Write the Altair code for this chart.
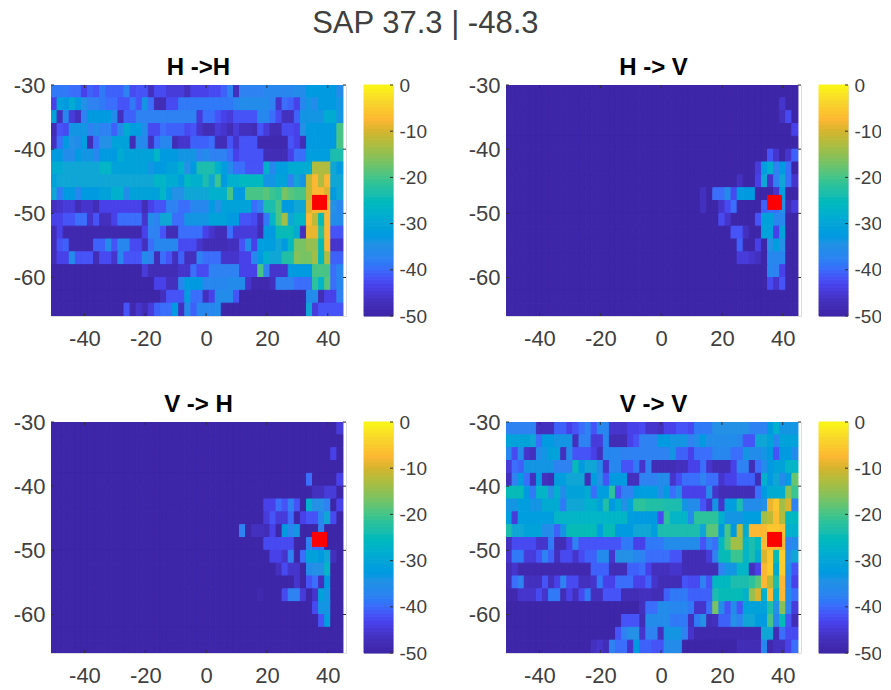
import altair as alt
import pandas as pd

TITLE = "SAP 37.3 | -48.3"
PANEL_TITLES = ["H ->H", "H -> V", "V -> H", "V -> V"]
MARKER_LON = [37.3]
MARKER_LAT = [-48.3]
X_TICKS = [-40, -20, 0, 20, 40]
Y_TICKS = [-30, -40, -50, -60]
CB_TICKS = [0, -10, -20, -30, -40, -50]
CB_LEVELS = [-50 + i * 50 / 64 for i in range(64)]
PARULA_VALUES = [-50, -47, -44, -42, -40, -38, -35, -30, -27, -24, -20, -15, -10, -8, -4, 0]
PARULA_COLORS = ["#3E26A8", "#4430BE", "#4840E8", "#4653F7", "#3A6EFB", "#2F82F2", "#2490E6", "#0FA6D6",
                 "#03B5C6", "#1CBDAE", "#48C586", "#95BF50", "#D9B42F", "#FCB733", "#F8D52C", "#F9FB15"]

# Each row runs top to bottom; (first longitude bin, dB) holds until the next pair.
HH = [
 [(0,-39),(3,-40),(5,-44),(6,-41),(7,-42),(8,-39),(9,-41),(12,-38),(13,-43),(14,-42),(16,-47),(17,-43),(19,-45),(22,-47),(23,-44),(26,-43),(28,-41),(29,-38),(30,-47),(31,-38),(35,-37),(40,-36),(42,-33),(47,-36)],
 [(0,-44),(1,-31),(2,-33),(3,-29),(4,-33),(5,-35),(6,-38),(8,-39),(9,-40),(11,-42),(13,-39),(14,-42),(15,-34),(16,-40),(17,-48),(19,-43),(21,-39),(30,-37),(31,-36),(36,-38),(37,-46),(38,-40),(39,-41),(40,-44),(41,-37),(42,-34),(43,-36),(44,-33),(47,-34)],
 [(0,-31),(1,-47),(2,-37),(3,-45),(4,-47),(5,-38),(6,-33),(10,-36),(11,-47),(12,-41),(14,-38),(24,-45),(25,-40),(27,-42),(28,-44),(29,-45),(30,-42),(34,-37),(36,-40),(37,-43),(38,-47),(40,-41),(41,-34),(45,-29),(47,-34)],
 [(0,-48),(1,-42),(2,-43),(3,-34),(6,-38),(7,-36),(8,-38),(10,-41),(11,-36),(12,-29),(13,-32),(15,-36),(16,-43),(18,-40),(19,-41),(22,-43),(23,-42),(24,-46),(25,-48),(27,-45),(28,-46),(29,-48),(30,-45),(31,-47),(33,-48),(34,-42),(35,-45),(36,-48),(38,-43),(40,-44),(41,-35),(42,-33),(47,-20)],
 [(0,-47),(1,-40),(2,-33),(3,-35),(4,-36),(5,-32),(6,-48),(7,-40),(8,-35),(10,-31),(13,-48),(14,-36),(15,-37),(16,-47),(17,-40),(18,-37),(20,-48),(21,-46),(23,-41),(26,-40),(27,-48),(29,-42),(30,-46),(31,-42),(34,-49),(39,-42),(40,-44),(41,-48),(42,-33),(47,-20)],
 [(0,-33),(2,-36),(4,-33),(5,-34),(7,-37),(8,-33),(11,-29),(12,-31),(17,-27),(18,-33),(21,-34),(24,-38),(25,-36),(26,-38),(29,-40),(30,-44),(31,-42),(35,-48),(39,-44),(40,-40),(42,-32),(46,-24)],
 [(0,-29),(2,-30),(8,-27),(10,-31),(16,-34),(17,-33),(19,-31),(21,-28),(22,-35),(23,-33),(24,-24),(27,-28),(28,-32),(29,-36),(30,-40),(32,-42),(35,-28),(36,-37),(37,-32),(39,-29),(43,-13),(46,-30),(47,-33)],
 [(0,-31),(1,-30),(17,-27),(19,-29),(21,-32),(22,-26),(23,-28),(25,-24),(26,-30),(27,-21),(28,-33),(29,-28),(31,-26),(35,-34),(37,-31),(39,-38),(40,-30),(41,-34),(42,-12),(43,-8),(44,-13),(45,-8),(46,-30)],
 [(0,-30),(1,-39),(2,-33),(4,-37),(5,-33),(8,-31),(10,-28),(12,-36),(13,-31),(18,-27),(19,-32),(20,-35),(22,-30),(26,-28),(29,-20),(30,-33),(32,-20),(35,-19),(36,-21),(37,-22),(38,-17),(39,-19),(40,-20),(42,-12),(43,-8),(45,-10),(46,-33),(47,-30)],
 [(0,-47),(1,-46),(2,-45),(4,-48),(5,-46),(7,-48),(8,-44),(15,-48),(16,-44),(17,-42),(19,-38),(21,-40),(23,-37),(26,-33),(27,-35),(28,-31),(33,-40),(34,-38),(35,-24),(37,-20),(38,-33),(40,-30),(42,-10),(43,-8),(46,-35),(47,-37)],
 [(0,-44),(2,-42),(4,-40),(6,-46),(7,-42),(8,-47),(10,-44),(11,-40),(15,-46),(16,-36),(17,-38),(18,-30),(20,-40),(22,-34),(26,-31),(29,-33),(31,-42),(33,-43),(34,-47),(35,-39),(36,-27),(37,-20),(38,-14),(39,-30),(40,-27),(42,-8),(43,-12),(44,-25),(45,-8),(46,-36)],
 [(0,-48),(1,-44),(2,-49),(15,-44),(16,-38),(18,-42),(19,-48),(21,-40),(25,-44),(26,-46),(27,-48),(29,-40),(30,-45),(34,-48),(35,-33),(37,-25),(40,-29),(41,-47),(42,-9),(44,-22),(45,-8),(46,-42)],
 [(0,-48),(1,-42),(2,-41),(3,-49),(7,-41),(9,-36),(10,-42),(11,-37),(13,-43),(15,-47),(16,-40),(17,-37),(21,-43),(24,-46),(25,-48),(29,-47),(31,-42),(32,-36),(33,-44),(34,-32),(37,-30),(38,-33),(39,-26),(40,-17),(42,-15),(44,-25),(45,-8),(46,-46)],
 [(0,-48),(1,-44),(3,-36),(4,-42),(7,-48),(8,-43),(10,-46),(11,-37),(12,-42),(15,-36),(16,-38),(17,-48),(18,-40),(19,-42),(20,-47),(21,-41),(22,-47),(24,-38),(25,-40),(28,-46),(31,-44),(33,-37),(34,-33),(35,-28),(36,-30),(38,-23),(40,-16),(41,-17),(43,-14),(44,-26),(45,-13),(46,-41)],
 [(0,-50),(15,-45),(16,-48),(21,-46),(23,-40),(24,-43),(26,-38),(31,-44),(34,-20),(35,-38),(36,-46),(39,-33),(43,-20),(46,-40),(47,-37)],
 [(0,-50),(17,-44),(19,-47),(21,-37),(22,-33),(25,-37),(29,-36),(32,-46),(33,-49),(36,-47),(37,-38),(40,-40),(43,-22),(44,-27),(45,-19),(46,-40),(47,-37)],
 [(0,-50),(18,-47),(19,-42),(22,-32),(23,-40),(25,-47),(26,-44),(27,-36),(30,-42),(31,-50),(42,-36),(44,-48),(45,-44),(47,-38)],
 [(0,-50),(12,-42),(13,-49),(14,-46),(15,-48),(16,-45),(17,-41),(18,-40),(20,-33),(21,-47),(22,-36),(23,-41),(24,-37),(27,-36),(28,-50),(42,-30),(43,-45),(44,-42)],
]
VV = [
 [(0,-38),(5,-47),(8,-41),(10,-44),(11,-42),(12,-40),(13,-38),(14,-42),(15,-37),(17,-46),(20,-44),(22,-43),(23,-46),(25,-47),(26,-44),(28,-42),(30,-43),(31,-39),(34,-35),(40,-38),(43,-33),(44,-28),(45,-34)],
 [(0,-31),(4,-30),(5,-40),(6,-33),(8,-34),(11,-47),(12,-38),(14,-45),(16,-37),(17,-48),(20,-44),(21,-42),(22,-38),(25,-33),(27,-34),(30,-38),(31,-36),(32,-33),(33,-36),(38,-37),(39,-42),(41,-30),(43,-31),(44,-37),(45,-31)],
 [(0,-37),(1,-43),(2,-36),(3,-46),(4,-47),(5,-36),(6,-34),(7,-31),(9,-47),(10,-36),(11,-42),(14,-44),(15,-47),(16,-37),(19,-38),(27,-34),(28,-41),(30,-44),(31,-40),(34,-37),(37,-40),(39,-34),(40,-36),(42,-34),(43,-33),(44,-42),(45,-33),(47,-36)],
 [(0,-45),(1,-40),(2,-41),(3,-34),(8,-38),(11,-25),(12,-33),(13,-30),(15,-36),(16,-46),(17,-37),(19,-42),(21,-39),(22,-46),(23,-38),(24,-48),(28,-47),(30,-44),(32,-40),(33,-46),(34,-48),(37,-44),(38,-38),(40,-48),(41,-40),(42,-36),(43,-33),(44,-31),(46,-27)],
 [(0,-47),(1,-38),(2,-33),(3,-40),(4,-47),(5,-33),(6,-47),(7,-48),(8,-32),(10,-30),(13,-48),(14,-32),(15,-35),(16,-42),(17,-33),(20,-47),(22,-38),(25,-36),(27,-46),(28,-43),(29,-40),(32,-38),(33,-40),(35,-46),(36,-44),(38,-41),(41,-48),(42,-28),(43,-33),(44,-30),(45,-36),(46,-33),(47,-18)],
 [(0,-25),(3,-33),(4,-39),(5,-27),(7,-35),(8,-28),(9,-36),(10,-31),(13,-29),(14,-40),(15,-32),(17,-22),(18,-42),(19,-38),(21,-33),(22,-32),(25,-36),(26,-33),(27,-40),(28,-36),(29,-44),(33,-36),(34,-46),(35,-48),(41,-40),(42,-33),(43,-29),(46,-16),(47,-21)],
 [(0,-34),(2,-32),(4,-34),(6,-29),(9,-39),(10,-30),(13,-28),(15,-31),(16,-23),(17,-33),(18,-29),(19,-35),(20,-31),(21,-22),(23,-23),(26,-24),(29,-34),(30,-36),(32,-42),(33,-46),(34,-34),(35,-46),(36,-32),(38,-24),(39,-36),(42,-35),(43,-9),(44,-6),(45,-14),(46,-10),(47,-38)],
 [(0,-32),(1,-45),(2,-32),(8,-27),(20,-32),(21,-33),(25,-43),(26,-22),(27,-27),(30,-36),(31,-22),(35,-28),(36,-34),(39,-32),(42,-14),(43,-12),(44,-7),(45,-13),(46,-26)],
 [(0,-24),(1,-30),(3,-31),(6,-36),(8,-41),(9,-34),(10,-25),(15,-32),(16,-25),(18,-33),(21,-30),(24,-32),(25,-24),(32,-30),(33,-19),(35,-33),(36,-20),(37,-33),(38,-12),(39,-29),(40,-8),(43,-6),(45,-7),(46,-28)],
 [(0,-47),(1,-43),(5,-46),(7,-39),(8,-48),(10,-44),(11,-38),(12,-42),(19,-39),(21,-44),(23,-39),(26,-36),(32,-42),(33,-38),(34,-40),(35,-26),(36,-20),(37,-14),(39,-27),(40,-24),(41,-26),(42,-8),(46,-38),(47,-36)],
 [(0,-46),(1,-39),(3,-45),(5,-42),(6,-38),(7,-41),(8,-47),(9,-43),(11,-46),(12,-43),(13,-41),(15,-36),(17,-46),(18,-35),(21,-37),(22,-38),(23,-40),(27,-42),(29,-48),(33,-45),(34,-38),(35,-25),(37,-21),(39,-27),(40,-24),(41,-29),(42,-10),(43,-6),(44,-25),(45,-5),(46,-35),(47,-30)],
 [(0,-48),(1,-46),(2,-49),(14,-41),(17,-48),(20,-41),(22,-40),(23,-44),(24,-47),(27,-46),(29,-48),(35,-38),(36,-34),(38,-27),(40,-47),(41,-44),(42,-8),(43,-5),(44,-29),(45,-5),(46,-36),(47,-42)],
 [(0,-48),(1,-40),(2,-38),(3,-47),(6,-42),(7,-47),(8,-44),(9,-38),(10,-43),(12,-47),(14,-46),(15,-39),(16,-44),(18,-40),(21,-44),(23,-41),(24,-46),(25,-48),(29,-42),(30,-43),(32,-38),(33,-42),(34,-26),(37,-24),(40,-22),(41,-19),(42,-8),(43,-12),(44,-24),(45,-8),(46,-38),(47,-44)],
 [(0,-49),(2,-46),(5,-43),(6,-46),(7,-39),(9,-48),(10,-44),(11,-47),(12,-43),(13,-39),(14,-47),(16,-42),(19,-48),(22,-47),(24,-48),(26,-41),(27,-39),(30,-41),(34,-24),(35,-25),(39,-28),(40,-15),(41,-10),(42,-28),(43,-8),(44,-28),(45,-8),(46,-36),(47,-40)],
 [(0,-50),(22,-47),(23,-40),(25,-36),(27,-37),(30,-39),(31,-46),(33,-40),(34,-17),(35,-36),(36,-42),(37,-36),(38,-42),(39,-31),(43,-23),(44,-35),(45,-16),(46,-38),(47,-45)],
 [(0,-50),(19,-42),(22,-48),(23,-36),(27,-39),(30,-47),(31,-39),(32,-35),(33,-48),(34,-47),(35,-41),(37,-35),(38,-38),(39,-30),(41,-33),(43,-20),(44,-37),(45,-25),(46,-42),(47,-48)],
 [(0,-50),(18,-42),(19,-38),(20,-35),(22,-46),(23,-38),(25,-47),(26,-34),(29,-38),(30,-46),(31,-49),(42,-30),(44,-48),(45,-40),(46,-43)],
 [(0,-50),(14,-47),(15,-46),(16,-48),(17,-38),(18,-40),(20,-46),(21,-33),(22,-41),(24,-42),(26,-36),(29,-50),(38,-48),(42,-37),(43,-49),(44,-47),(46,-44),(47,-40)],
]
HV = [
 [(0,-50)],
 [(0,-50),(45,-46),(46,-50)],
 [(0,-50),(45,-47),(46,-43),(47,-50)],
 [(0,-50),(47,-44)],
 [(0,-50)],
 [(0,-50),(43,-42),(44,-46),(45,-50),(46,-46),(47,-41)],
 [(0,-50),(41,-45),(42,-32),(43,-28),(44,-38),(45,-33),(46,-40),(47,-50)],
 [(0,-50),(38,-47),(39,-50),(41,-44),(42,-30),(43,-46),(44,-38),(45,-30),(46,-40),(47,-46)],
 [(0,-50),(32,-47),(33,-50),(34,-40),(36,-36),(37,-43),(38,-33),(41,-50),(44,-46),(45,-32),(46,-50)],
 [(0,-50),(32,-47),(33,-50),(35,-46),(36,-43),(37,-40),(38,-50),(42,-41),(43,-40),(45,-35),(46,-48),(47,-45)],
 [(0,-50),(35,-43),(36,-46),(37,-50),(41,-42),(42,-31),(44,-37),(46,-50)],
 [(0,-50),(37,-42),(39,-47),(40,-50),(42,-31),(44,-44),(45,-31),(46,-50)],
 [(0,-50),(38,-41),(39,-50),(41,-44),(42,-50),(43,-35),(44,-32),(45,-35),(46,-50)],
 [(0,-50),(38,-45),(40,-46),(41,-47),(42,-50),(43,-37),(46,-50)],
 [(0,-50),(43,-37),(44,-38),(45,-44),(46,-50)],
 [(0,-50),(43,-43),(44,-46),(45,-42),(46,-50)],
 [(0,-50)],
 [(0,-50)],
]
VH = [
 [(0,-50),(47,-45)],
 [(0,-50)],
 [(0,-50),(46,-44),(47,-50)],
 [(0,-50)],
 [(0,-50),(42,-40),(43,-50),(47,-44)],
 [(0,-50),(43,-47),(45,-45),(47,-50)],
 [(0,-50),(35,-44),(37,-40),(38,-42),(39,-38),(40,-42),(41,-50),(42,-28),(43,-35),(45,-38),(46,-50),(47,-44)],
 [(0,-50),(35,-45),(36,-42),(37,-45),(39,-40),(40,-50),(41,-44),(42,-42),(44,-37),(45,-30),(46,-43),(47,-50)],
 [(0,-50),(31,-38),(32,-50),(33,-47),(35,-48),(36,-44),(37,-50),(38,-33),(39,-37),(40,-34),(41,-50),(44,-38),(45,-50)],
 [(0,-50),(35,-43),(40,-50),(42,-38),(43,-40),(45,-50)],
 [(0,-50),(36,-44),(38,-46),(39,-38),(40,-50),(41,-40),(42,-31),(44,-33),(45,-30),(46,-47),(47,-50)],
 [(0,-50),(37,-47),(38,-43),(39,-46),(41,-50),(42,-36),(43,-35),(45,-27),(46,-50)],
 [(0,-50),(40,-46),(41,-50),(42,-42),(43,-40),(44,-47),(45,-33),(46,-50)],
 [(0,-50),(34,-49),(35,-50),(38,-43),(39,-38),(41,-45),(42,-50),(43,-46),(44,-31),(45,-34),(46,-50)],
 [(0,-50),(43,-43),(44,-34),(46,-50)],
 [(0,-50),(44,-42),(45,-32),(46,-50)],
 [(0,-50)],
 [(0,-50)],
]

LON_START = -51
LAT_START = -30
BIN = 2
N_LON = 48
X_DOMAIN = [-51, 46]
Y_DOMAIN = [-66, -30]
FONT = "Liberation Sans"
INK = "#404040"
LABEL_EXPR = "'' + datum.value"

color_scale = alt.Scale(domain=PARULA_VALUES, range=PARULA_COLORS, clamp=True)


def table(rows):
    records = []
    for r, row in enumerate(rows):
        for k, (first, value) in enumerate(row):
            last = row[k + 1][0] if k + 1 < len(row) else N_LON
            for c in range(first, last):
                records.append({
                    "lon0": LON_START + c * BIN, "lon1": LON_START + (c + 1) * BIN,
                    "lat0": LAT_START - r * BIN, "lat1": LAT_START - (r + 1) * BIN,
                    "db": value,
                })
    return pd.DataFrame(records)


x_plain = alt.Scale(domain=X_DOMAIN, nice=False, zero=False)
y_plain = alt.Scale(domain=Y_DOMAIN, nice=False, zero=False)


def panel(rows, title):
    heat = alt.Chart(table(rows)).mark_rect(strokeWidth=1, clip=True).encode(
        x=alt.X("lon0:Q", scale=x_plain, axis=alt.Axis(
            values=X_TICKS, title=None, grid=False, domain=False, ticks=False,
            labelFont=FONT, labelFontSize=22, labelColor=INK, labelPadding=12, labelExpr=LABEL_EXPR)),
        x2="lon1:Q",
        y=alt.Y("lat0:Q", scale=y_plain, axis=alt.Axis(
            values=Y_TICKS, title=None, grid=False, domain=False, ticks=False,
            labelFont=FONT, labelFontSize=22, labelColor=INK, labelPadding=6, labelExpr=LABEL_EXPR)),
        y2="lat1:Q",
        color=alt.Color("db:Q", scale=color_scale, legend=None),
        stroke=alt.Stroke("db:Q", scale=color_scale, legend=None),
    )
    xt = pd.DataFrame({"t": X_TICKS})
    yt = pd.DataFrame({"t": Y_TICKS})
    tick_color = "#303030"
    bottom = alt.Chart(xt).mark_rule(color=tick_color).encode(
        x=alt.X("t:Q", scale=x_plain), y=alt.value(231), y2=alt.value(228))
    top = alt.Chart(xt).mark_rule(color=tick_color).encode(
        x=alt.X("t:Q", scale=x_plain), y=alt.value(0), y2=alt.value(3))
    left = alt.Chart(yt).mark_rule(color=tick_color).encode(
        y=alt.Y("t:Q", scale=y_plain), x=alt.value(0), x2=alt.value(3))
    right = alt.Chart(yt).mark_rule(color=tick_color).encode(
        y=alt.Y("t:Q", scale=y_plain), x=alt.value(295), x2=alt.value(292))
    marker = alt.Chart(pd.DataFrame({"lon": MARKER_LON, "lat": MARKER_LAT})).mark_square(
        size=225, color="#FF0000", opacity=1, strokeWidth=0).encode(
        x=alt.X("lon:Q", scale=x_plain), y=alt.Y("lat:Q", scale=y_plain))
    return alt.layer(heat, bottom, top, left, right, marker).properties(
        width=295, height=231,
        title=alt.TitleParams(title, font=FONT, fontSize=24, fontWeight="bold", color="#000000",
                              anchor="middle", offset=-6),
    )


def colorbar():
    d = pd.DataFrame({"lo": CB_LEVELS, "hi": [v + 50 / 64 for v in CB_LEVELS]})
    cb_y = alt.Scale(domain=[-50, 0], nice=False, zero=False)
    bars = alt.Chart(d).mark_rect(strokeWidth=1).encode(
        y=alt.Y("lo:Q", scale=cb_y, axis=alt.Axis(
            orient="right", values=CB_TICKS, title=None, grid=False, domain=False, ticks=False,
            labelFont=FONT, labelFontSize=19, labelColor=INK, labelPadding=6, labelExpr=LABEL_EXPR)),
        y2="hi:Q",
        color=alt.Color("lo:Q", scale=color_scale, legend=None),
        stroke=alt.Stroke("lo:Q", scale=color_scale, legend=None),
        x=alt.value(0), x2=alt.value(29),
    )
    ticks = alt.Chart(pd.DataFrame({"t": CB_TICKS})).mark_rule(color="#303030").encode(
        y=alt.Y("t:Q", scale=cb_y), x=alt.value(29), x2=alt.value(26))
    return alt.layer(bars, ticks).properties(width=29, height=231)


def spacer():
    return alt.Chart(pd.DataFrame({"t": [0]})).mark_point(opacity=0).encode(
        x=alt.X("t:Q", axis=None), y=alt.Y("t:Q", axis=None),
    ).properties(width=77, height=231, view=alt.ViewBackground(stroke="transparent"))


chart = alt.concat(
    panel(HH, PANEL_TITLES[0]), colorbar(), spacer(), panel(HV, PANEL_TITLES[1]), colorbar(),
    panel(VH, PANEL_TITLES[2]), colorbar(), spacer(), panel(VV, PANEL_TITLES[3]), colorbar(),
    columns=5, bounds="flush", spacing={"row": 106, "column": 18},
).resolve_scale(color="independent", stroke="independent").properties(
    padding={"left": 4, "top": -1, "right": -1, "bottom": 0},
    title=alt.TitleParams(TITLE, font=FONT, fontSize=31, fontWeight="normal", color=INK,
                          anchor="middle", dx=-22, offset=16),
).configure_view(stroke="#404040", strokeWidth=1).configure(background="#ffffff")

chart.save("out.html", embed_options={"renderer": "svg", "actions": False})
